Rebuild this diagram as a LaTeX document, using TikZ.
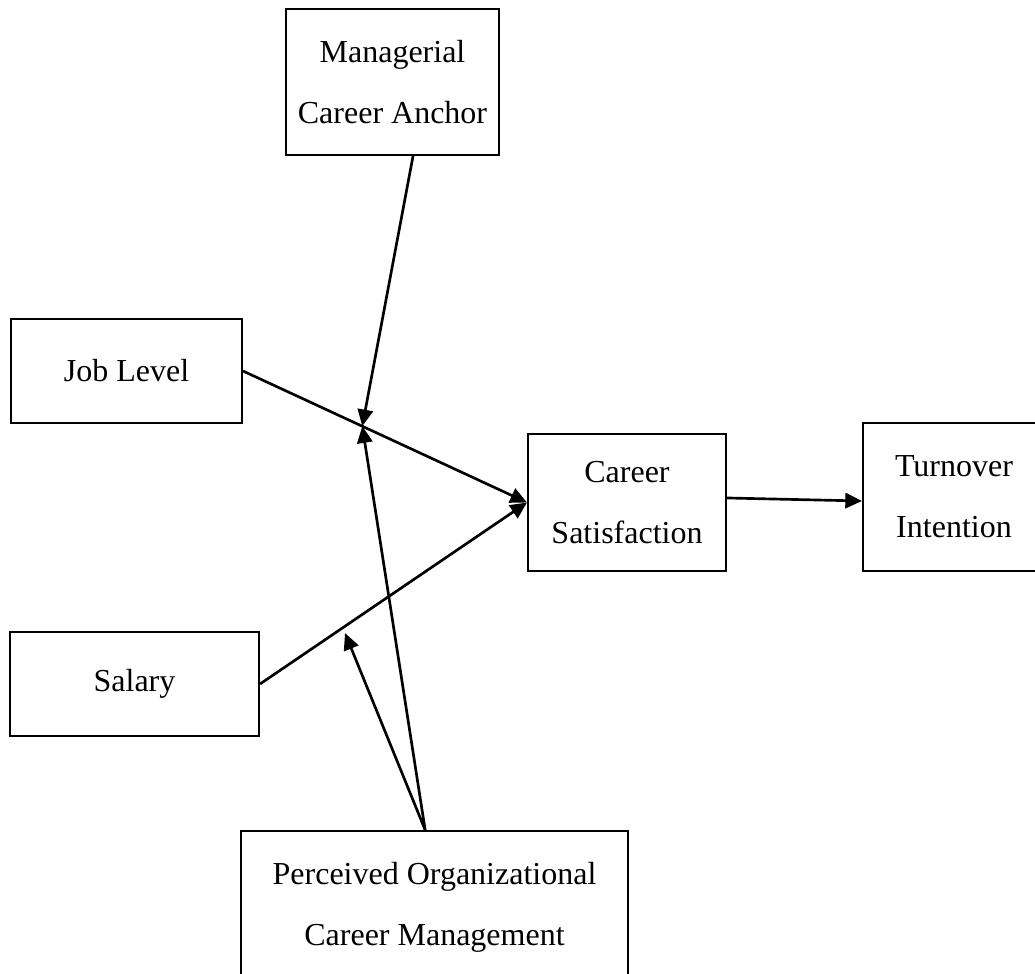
\documentclass[tikz,border=0pt]{standalone}
\usepackage{fontspec}
\setmainfont{Liberation Serif}
\usepackage{tikz}
\usetikzlibrary{arrows.meta, positioning, calc}

\tikzset{
    varbox/.style={draw, rectangle, line width=1.5pt, align=center,
        font={\fontsize{24pt}{45.75pt}\selectfont}},
    path/.style={-{Triangle[length=12.5pt, width=11.5pt]}, line width=2pt}
}

\begin{document}
\begin{tikzpicture}[x=0.75pt, y=-0.75pt]
    \useasboundingbox (0,0) rectangle (1035,974);
    \clip (0,0) rectangle (1035,974);

    % Variables
    \node[varbox, minimum width=159.75pt, minimum height=109.5pt] (anchor) at (392.5,82) {Managerial\\Career Anchor};
    \node[varbox, minimum width=173.25pt, minimum height=78pt] (joblevel) at (126.5,371) {Job Level};
    \node[varbox, minimum width=186.75pt, minimum height=78pt] (salary) at (134.5,684) {Salary};
    \node[varbox, minimum width=148.5pt, minimum height=102.75pt] (satisfaction) at (627,502.5) {Career\\Satisfaction};
    \node[varbox, minimum width=136.5pt, minimum height=111pt] (turnover) at (954,497) {Turnover\\Intention};
    \node[varbox, minimum width=290.25pt, inner sep=0pt, text height=85.5pt, text depth=42pt, anchor=north] (pocm) at (434.5,830) {Perceived Organizational\\Career Management};

    % Moderation points
    \coordinate (jobmod) at ($(joblevel.east)!0.42!(satisfaction.west)$);
    \coordinate (salmod) at (345,633);

    % Paths
    \draw[path] (joblevel.east) -- (satisfaction.west);
    \draw[path] (salary.east) -- (satisfaction.west);
    \draw[path] ([yshift=3.4pt]satisfaction.east) -- ([yshift=-3pt]turnover.west);
    \draw[path] ([xshift=15.4pt]anchor.south) -- (jobmod);
    \draw[path] ([xshift=-7pt]pocm.north) -- (jobmod);
    \draw[path] ([xshift=-7pt]pocm.north) -- (salmod);
\end{tikzpicture}
\end{document}
